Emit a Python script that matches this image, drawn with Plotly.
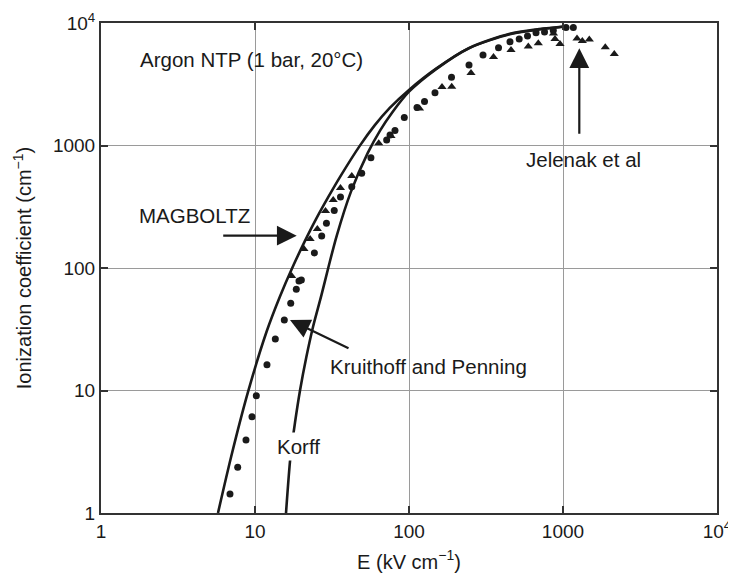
import math
import plotly.graph_objects as go

# ---- data ----
magboltz_E = [5.75, 7.0, 9.0, 11.9, 14.5, 17.5, 21.0, 25.1, 30.0, 35.6, 48.0, 60.0, 75.0, 100, 150, 245, 452, 700, 1040]
magboltz_a = [1.0, 2.88, 9.7, 30.3, 58.3, 101, 164, 255, 382, 552, 998, 1466, 2028, 2844, 4240, 6240, 8170, 8910, 9400]

korff_E = [15.9, 17.0, 18.2, 19.6, 21.5, 23.8, 27.0, 30.0, 34.0, 42.0, 54.0, 65.0, 78.0, 100, 150, 245, 452, 700, 1040]
korff_a = [1.0, 2.9, 5.5, 10.0, 18.5, 33, 60, 102, 185, 420, 870, 1330, 1870, 2750, 4200, 6220, 8100, 8850, 9350]

kp_E = [6.88, 7.72, 8.74, 9.56, 10.2, 11.96, 13.55, 15.5, 17.06, 18.54, 19.3, 20.0, 24.3, 27.1, 29.1,
        32.7, 35.9, 42.5, 49.3, 56.6, 71.6, 75.3, 81.1, 93.2, 112.7, 126.1, 147.5, 188.8, 245.3, 302.4,
        381.3, 452.7, 519.5, 588.2, 667.9, 758.6, 865, 1046, 1167]
kp_a = [1.43, 2.36, 3.94, 6.11, 9.07, 16.2, 26.3, 37.6, 51.5, 67.0, 78.3, 79.8, 132.6, 182.5, 231.7,
        294.6, 379.8, 461, 593, 795, 1109, 1218, 1326, 1693, 2043, 2287, 2693, 3611, 4541, 5480,
        6276, 7024, 7403, 7833, 8333, 8444, 8685, 9190, 9190]

jel_E = [17.3, 20.8, 22.8, 25.4, 28.7, 32.2, 35.9, 42.5, 63.6, 76.4, 117.0, 163.8, 189.4, 252.7, 353.8,
         459.6, 595.2, 691.3, 867.6, 887.4, 956.1, 1233, 1335, 1482, 1882, 2153]
jel_a = [86.0, 142.9, 172.5, 208.1, 292, 359, 450, 564, 1042, 1196, 2004, 3003, 3020, 3907, 5278,
         6020, 6429, 6829, 8210, 7403, 6741, 7472, 7130, 7333, 6334, 5584]

tick_vals = [1, 10, 100, 1000, 10000]
tick_text = ["1", "10", "100", "1000", "10<sup>4</sup>"]

FONT = "Liberation Sans, Arial, sans-serif"
INK = "#1a1a1a"

fig = go.Figure()
fig.add_trace(go.Scatter(x=magboltz_E, y=magboltz_a, mode="lines",
                         line=dict(color=INK, width=2.6, shape="spline", smoothing=0.8),
                         name="MAGBOLTZ", showlegend=False))
fig.add_trace(go.Scatter(x=korff_E, y=korff_a, mode="lines",
                         line=dict(color=INK, width=2.6, shape="spline", smoothing=0.8),
                         name="Korff", showlegend=False))
fig.add_trace(go.Scatter(x=kp_E, y=kp_a, mode="markers",
                         marker=dict(symbol="circle", size=7, color=INK),
                         name="Kruithoff and Penning", showlegend=False))
fig.add_trace(go.Scatter(x=jel_E, y=jel_a, mode="markers",
                         marker=dict(symbol="triangle-up", size=8, color=INK),
                         name="Jelenak et al", showlegend=False))

axis_common = dict(
    type="log", tickvals=tick_vals, ticktext=tick_text,
    showline=True, linecolor="#333333", linewidth=2, mirror="ticks",
    ticks="inside", ticklen=7, tickwidth=1.5, tickcolor="#333333",
    showgrid=True, gridcolor="#9a9a9a", gridwidth=1,
    zeroline=False, tickfont=dict(family=FONT, size=19, color=INK),
)

fig.update_xaxes(range=[0, 4], **axis_common,
                 title=dict(text="E (kV cm<sup>\u22121</sup>)", font=dict(family=FONT, size=20, color=INK), standoff=14))
fig.update_yaxes(range=[0, 4], **axis_common,
                 title=dict(text="Ionization coefficient (cm<sup>\u22121</sup>)", font=dict(family=FONT, size=20, color=INK), standoff=16))

texts = [
    ("Argon NTP (1 bar, 20\u00b0C)", 0.0584, 0.9245, None),
    ("MAGBOLTZ", 0.0568, 0.6067, None),
    ("Kruithoff and Penning", 0.3664, 0.2986, None),
    ("Korff", 0.2813, 0.1367, "white"),
    ("Jelenak et al", 0.6856, 0.7218, None),
]
for t, px, py, bg in texts:
    fig.add_annotation(text=t, x=px, y=py, xref="paper", yref="paper",
                       xanchor="left", yanchor="middle", showarrow=False,
                       bgcolor=bg if bg else "rgba(0,0,0,0)", borderpad=2,
                       font=dict(family=FONT, size=20.5, color=INK))

# arrows: tip at data position (log10 coordinates for log axes), tail offset in pixels
arrows = [
    (18.66, 183.5, -75, 0),
    (16.88, 37.6, 60, 29),
    (1276, 6220, 0, 87),
]
for ex, ay_val, dx, dy in arrows:
    fig.add_annotation(x=math.log10(ex), y=math.log10(ay_val), xref="x", yref="y",
                       text="", showarrow=True, ax=dx, ay=dy, axref="pixel", ayref="pixel",
                       arrowhead=2, arrowsize=1.8, arrowwidth=2.2, arrowcolor=INK, standoff=0)

# page body has an 8px default margin; margins compensate so the plot area sits where the reference has it
fig.update_layout(
    width=736, height=576,
    margin=dict(l=93, r=27, t=15, b=71, autoexpand=False),
    plot_bgcolor="white", paper_bgcolor="white",
    font=dict(family=FONT, color=INK),
)

fig.write_html("out.html")
